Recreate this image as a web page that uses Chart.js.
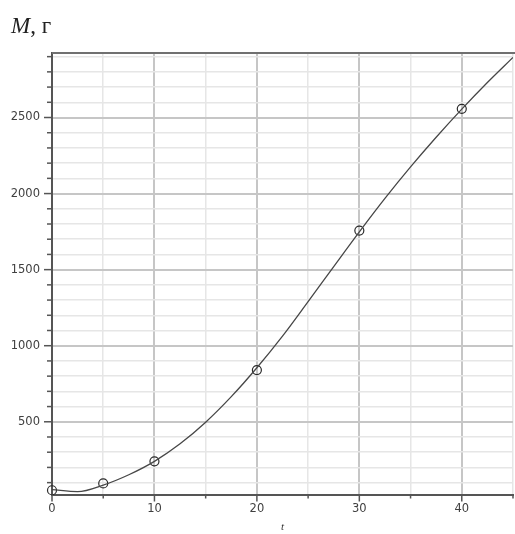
<!DOCTYPE html>
<html><head><meta charset="utf-8">
<script src="https://cdn.jsdelivr.net/npm/chart.js@4"></script>
<style>
html,body{margin:0;padding:0;background:#fff;}
#wrap{position:relative;width:515px;height:534px;}
#ttl{position:absolute;left:11px;top:14px;font-family:"Liberation Serif","DejaVu Serif",serif;font-size:23px;line-height:1;color:#222;white-space:nowrap;}
</style></head><body>
<div id="wrap"><canvas id="c" width="515" height="534"></canvas><div id="ttl"><i>M</i>, г</div></div>
<script>
// fitted curve
const curveT = [0, 2.5, 5, 7.5, 10, 12.5, 15, 17.5, 20, 22.5, 25, 27.5, 30, 32.5, 35, 37.5, 40, 42.5, 45];
const curveM = [54, 41, 84, 152, 240, 355, 497, 665, 855, 1063, 1290, 1520, 1748, 1968, 2175, 2370, 2555, 2730, 2895];
// measured points
const obsT = [0, 5, 10, 20, 30, 40];
const obsM = [50, 95, 240, 840, 1757, 2557];
// ticks
const xTicks = [0, 5, 10, 15, 20, 25, 30, 35, 40, 45];
const xLabels = [0, 10, 20, 30, 40];
const yTicks = [100,200,300,400,500,600,700,800,900,1000,1100,1200,1300,1400,1500,1600,1700,1800,1900,2000,2100,2200,2300,2400,2500,2600,2700,2800,2900];
const yLabels = [500, 1000, 1500, 2000, 2500];

const tickMarks = {
  id: 'tickMarks',
  afterDraw(chart) {
    const {ctx, chartArea: a, scales: {x, y}} = chart;
    ctx.save();
    ctx.strokeStyle = '#555';
    ctx.lineWidth = 1.5;
    yTicks.forEach(v => {
      const p = y.getPixelForValue(v);
      const len = yLabels.includes(v) ? 8 : 5;
      ctx.beginPath(); ctx.moveTo(a.left - len, p); ctx.lineTo(a.left, p); ctx.stroke();
    });
    xTicks.forEach(v => {
      const p = x.getPixelForValue(v);
      const len = xLabels.includes(v) ? 7 : 4;
      ctx.beginPath(); ctx.moveTo(p, a.bottom); ctx.lineTo(p, a.bottom + len); ctx.stroke();
    });
    ctx.strokeStyle = '#707070';
    ctx.lineWidth = 2;
    ctx.beginPath(); ctx.moveTo(a.left, a.top); ctx.lineTo(a.right + 2, a.top); ctx.stroke();
    ctx.restore();
  }
};

const tickFont = {family: '"DejaVu Sans", sans-serif', size: 11.5};

new Chart(document.getElementById('c'), {
  type: 'scatter',
  data: {
    datasets: [
      {
        data: curveT.map((t, i) => ({x: t, y: curveM[i]})),
        showLine: true,
        borderColor: '#474747',
        borderWidth: 1.3,
        pointRadius: 0,
        cubicInterpolationMode: 'monotone',
        fill: false
      },
      {
        data: obsT.map((t, i) => ({x: t, y: obsM[i]})),
        showLine: false,
        pointRadius: 4.5,
        pointBorderWidth: 1.2,
        pointBorderColor: '#2a2a2a',
        pointBackgroundColor: 'rgba(255,255,255,0)',
        clip: false
      }
    ]
  },
  options: {
    responsive: false,
    animation: false,
    devicePixelRatio: 1,
    layout: {autoPadding: false, padding: {left: 0, right: 2, top: 53, bottom: 0}},
    plugins: {legend: {display: false}, tooltip: {enabled: false}},
    scales: {
      x: {
        type: 'linear', min: 0, max: 45,
        afterBuildTicks: s => { s.ticks = xTicks.map(v => ({value: v})); },
        afterFit: s => { s.height = 39.5; s.paddingLeft = 0; s.paddingRight = 0; },
        ticks: {
          autoSkip: false, maxRotation: 0, padding: 1, color: '#404040', font: tickFont,
          callback: v => xLabels.includes(v) ? String(v) : ''
        },
        grid: {
          tickLength: 7,
          tickColor: 'rgba(0,0,0,0)',
          color: c => (c.tick && c.tick.value % 10 === 0) ? '#c6c6c6' : '#e6e6e6',
          lineWidth: c => (c.tick && c.tick.value % 10 === 0) ? 2 : 1.5
        },
        border: {color: '#555', width: 2},
        title: {display: true, text: 't', color: '#333', padding: {top: 0, bottom: 0},
          font: {family: '"Liberation Serif", serif', size: 11, style: 'italic'}}
      },
      y: {
        type: 'linear', min: 22, max: 2924,
        afterBuildTicks: s => { s.ticks = yTicks.map(v => ({value: v})); },
        afterFit: s => { s.width = 52; s.paddingTop = 0; s.paddingBottom = 0; },
        ticks: {
          autoSkip: false, padding: 4, color: '#404040', font: tickFont,
          callback: v => yLabels.includes(v) ? String(v) : ''
        },
        grid: {
          tickLength: 8,
          tickColor: 'rgba(0,0,0,0)',
          color: c => (c.tick && c.tick.value % 500 === 0) ? '#c6c6c6' : '#e6e6e6',
          lineWidth: c => (c.tick && c.tick.value % 500 === 0) ? 2 : 1.5
        },
        border: {color: '#555', width: 2}
      }
    }
  },
  plugins: [tickMarks]
});
</script>
</body></html>
